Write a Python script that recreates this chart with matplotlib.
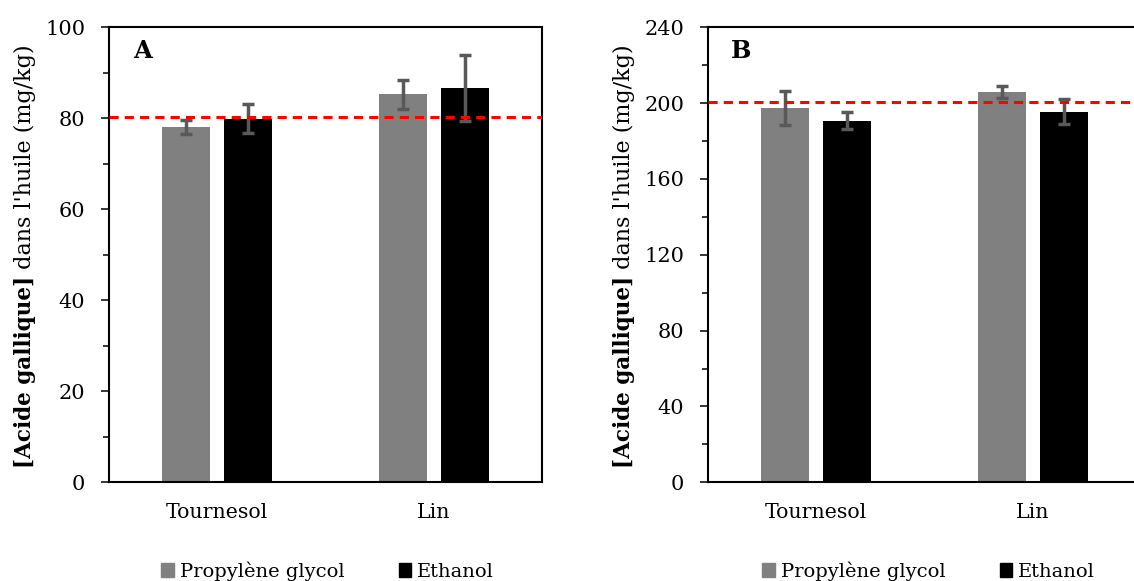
import numpy as np
import matplotlib
matplotlib.use('Agg')
import matplotlib.pyplot as plt
from matplotlib.patches import Patch
from matplotlib.ticker import MultipleLocator


plt.rcParams['font.family'] = ['DejaVu Serif']
plt.rcParams['font.size'] = 14.5

# data
categories = ['Tournesol', 'Lin']
series_names = ['Propylène glycol', 'Ethanol']

a_propylene = [78.1, 85.3]
a_propylene_err = [1.5, 3.2]
a_ethanol = [79.9, 86.7]
a_ethanol_err = [3.2, 7.3]
a_reference = 80.3

b_propylene = [197.4, 205.9]
b_propylene_err = [9.1, 3.0]
b_ethanol = [190.6, 195.5]
b_ethanol_err = [4.5, 6.6]
b_reference = 200.6

bar_colors = ['#808080', '#000000']
err_color = '#595959'


def draw_panel(ax, values, errors, reference, ymax, major, letter, legend_x):
    x = np.arange(len(categories))
    offsets = [-0.143, 0.143]
    for vals, errs, off, col in zip(values, errors, offsets, bar_colors):
        ax.bar(x + off, vals, width=0.222, color=col, zorder=2)
        ax.errorbar(x + off, vals, yerr=errs, fmt='none', ecolor=err_color,
                    elinewidth=2.5, capsize=4, capthick=2.5, zorder=3)

    ax.axhline(reference, color='red', lw=2.2, linestyle=(0, (3, 2)), zorder=4)

    ax.set_xlim(-0.5, 1.5)
    ax.set_ylim(0, ymax)
    ax.set_xticks(x)
    ax.set_xticklabels(categories, fontsize=14.8)
    ax.tick_params(axis='x', length=0, pad=15)
    ax.yaxis.set_major_locator(MultipleLocator(major))
    ax.yaxis.set_minor_locator(MultipleLocator(major / 2))
    ax.tick_params(axis='y', which='major', length=5.5, width=1.1, pad=11.5,
                   labelsize=15)
    ax.tick_params(axis='y', which='minor', length=4.5, width=1.1)
    for s in ax.spines.values():
        s.set_linewidth(1.5)

    ax.text(0.078, 0.947, letter, transform=ax.transAxes, fontsize=17.5,
            fontweight='bold', ha='center', va='center')

    # y label: bold part followed by regular part
    t1 = ax.text(-0.194, 0.031, '[Acide gallique]', transform=ax.transAxes,
                 rotation=90, fontweight='bold', fontsize=15.5,
                 ha='center', va='bottom')
    ax.annotate(" dans l'huile (mg/kg)", xy=(0.5, 1.0), xycoords=t1,
                rotation=90, fontsize=16, ha='center', va='bottom')

    handles = [Patch(color=c, label=n) for c, n in zip(bar_colors, series_names)]
    ax.legend(handles=handles, loc='center', bbox_to_anchor=(legend_x, 0.017),
              bbox_transform=ax.figure.transFigure, ncol=2, frameon=False,
              handlelength=0.65, handleheight=0.75, handletextpad=0.3,
              columnspacing=2.8, borderpad=0, fontsize=14)


fig = plt.figure(figsize=(11.34, 5.81), dpi=100)
ax_a = fig.add_axes([0.0961, 0.1699, 0.3821, 0.7831])
ax_b = fig.add_axes([0.6241, 0.1699, 0.3821, 0.7831])

draw_panel(ax_a, [a_propylene, a_ethanol], [a_propylene_err, a_ethanol_err],
           a_reference, 100, 20, 'A', 0.289)
draw_panel(ax_b, [b_propylene, b_ethanol], [b_propylene_err, b_ethanol_err],
           b_reference, 240, 40, 'B', 0.819)

fig.savefig('out.png', dpi=100)
